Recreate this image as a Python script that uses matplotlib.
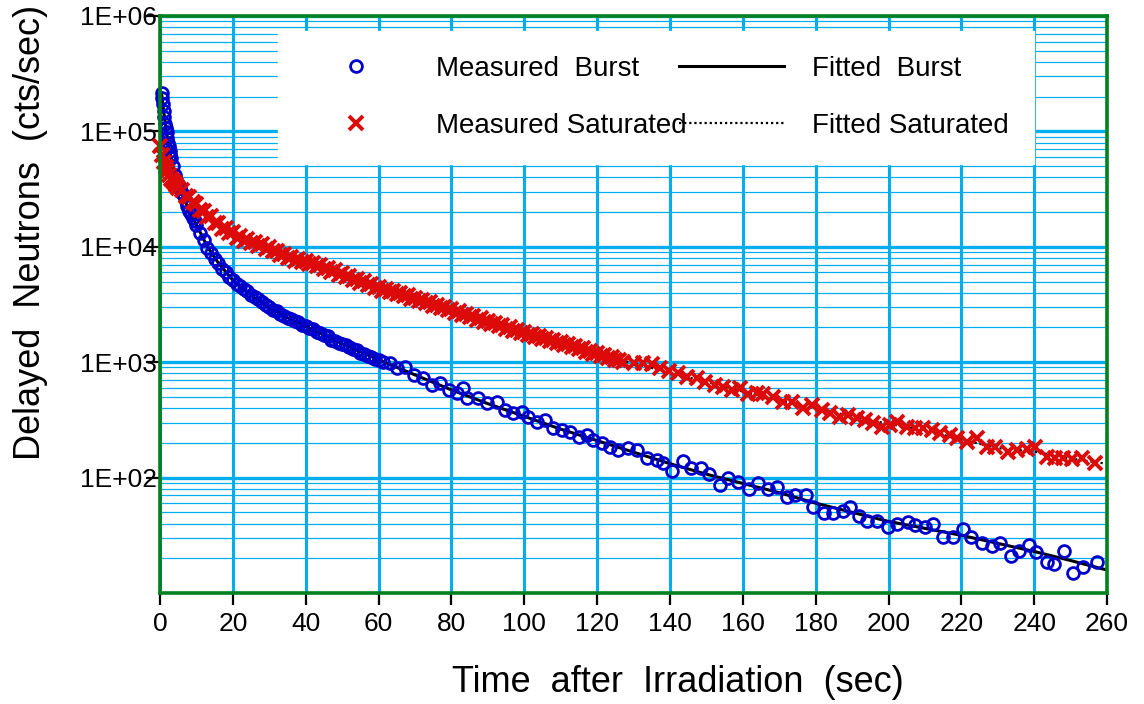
import matplotlib.pyplot as plt
from matplotlib.lines import Line2D
from matplotlib.ticker import FixedLocator, FixedFormatter, LogLocator, NullFormatter

plt.rcParams["font.family"] = ["Liberation Sans", "DejaVu Sans"]

# Measured burst irradiation (cts/sec)
burst_t = [
    0.4, 0.6, 0.8, 1.0, 1.2, 1.4, 1.6, 1.8, 2.0, 2.2, 2.4, 2.6, 2.8, 3.0,
    3.5, 4.0, 4.5, 5.0, 5.5, 6.0, 6.5, 7.0, 7.5, 8.0, 8.5, 9.0, 9.5, 10.0,
    11, 12, 13, 14, 15, 16, 17, 18, 19, 20, 21, 22, 23, 24, 25, 26, 27, 28,
    29, 30, 31, 32, 33, 34, 35, 36, 37, 38, 39, 40, 41, 42, 43, 44, 45, 46,
    47, 48, 49, 50, 51, 52, 53, 54, 55, 56, 57, 58, 59, 60,
    61.3, 63.2, 65.0, 67.3, 69.6, 72.3, 74.6, 76.9, 79.2, 81.5, 83.3, 84.2,
    87.4, 89.7, 92.4, 94.7, 97.0, 99.3, 101.1, 103.4, 105.7, 108.0, 110.3,
    112.6, 114.9, 117.2, 119.0, 121.3, 123.6, 125.8, 128.6, 130.9, 133.6,
    136.4, 138.2, 140.6, 143.6, 145.8, 148.6, 150.8, 153.6, 156.0, 158.8,
    161.8, 164.2, 167.0, 169.4, 172.1, 174.4, 177.3, 179.3, 182.3, 184.8,
    187.5, 189.5, 192.0, 194.1, 196.9, 199.9, 202.4, 205.3, 207.3, 210.0,
    212.3, 215.0, 217.7, 220.5, 222.7, 225.6, 228.4, 230.6, 233.6, 235.9,
    238.6, 240.5, 243.5, 245.5, 248.2, 250.6, 253.4, 257.3,
]
burst_cps = [
    214000, 195000, 174000, 151000, 132000, 117000, 107000, 98000, 87000,
    79000, 74000, 68000, 63000, 59000,
    50000, 42000, 38000, 34700, 32400, 29500, 27500, 25100, 22400, 20400,
    19100, 17800, 16600, 15500,
    13200, 11400, 9800, 8900, 7900, 7300, 6400, 6100, 5500, 5200, 4800, 4600,
    4300, 4100, 3850, 3700, 3500, 3350, 3150, 2980, 2830, 2780, 2600, 2530,
    2420, 2360, 2270, 2210, 2080, 2050, 1980, 1920, 1830, 1790, 1710, 1670,
    1570, 1540, 1470, 1450, 1400, 1360, 1310, 1270, 1210, 1180, 1140, 1110,
    1060, 1050,
    1010, 977, 885, 912, 774, 725, 631, 656, 575, 537, 594, 486,
    486, 440, 455, 385, 361, 372, 337, 305, 315, 267, 258,
    250, 226, 234, 212, 198, 185, 173, 179, 173, 147,
    142, 135, 115, 138, 120, 120, 107, 87, 100, 91,
    79, 89, 79, 83, 68, 71, 71, 56, 49, 49,
    51, 56, 46, 42, 42, 37, 40, 41, 39, 37,
    40, 30.5, 30.5, 36, 30.5, 27, 25.7, 27, 21, 23,
    26, 22.6, 18.6, 17.8, 22.9, 15, 16.8, 18.6,
]

# Measured saturated irradiation (cts/sec)
sat_t = [
    0, 0.5, 1, 1.5, 2, 2.5, 3, 3.5, 4, 4.5, 5,
    6, 7, 8, 9, 10, 11, 12, 13, 14, 15, 16, 17, 18, 19, 20, 21, 22, 23, 24,
    25, 26, 27, 28, 29, 30, 31, 32, 33, 34, 35, 36, 37, 38, 39, 40, 41, 42,
    43, 44, 45, 46, 47, 48, 49, 50, 51, 52, 53, 54, 55, 56, 57, 58, 59, 60,
    61, 62, 63, 64, 65, 66, 67, 68, 69, 70, 71, 72, 73, 74, 75, 76, 77, 78,
    79, 80, 81, 82, 83, 84, 85, 86, 87, 88, 89, 90, 91, 92, 93, 94, 95, 96,
    97, 98, 99, 100, 101, 102, 103, 104, 105, 106, 107, 108, 109, 110, 111,
    112, 113, 114, 115, 116, 117, 118, 119, 120, 121, 122, 123, 124, 125,
    126,
    127.2, 130.0, 132.7, 135.0, 137.3, 139.6, 142.3, 144.6, 147.4, 149.6,
    152.4, 154.6, 157.0, 159.2, 161.5, 163.8, 165.6, 168.4, 171.1, 173.5,
    176.6, 178.9, 181.7, 184.0, 186.6, 188.9, 191.3, 193.6, 195.8, 198.2,
    200.4, 202.3, 205.0, 207.3, 209.5, 211.9, 214.2, 216.9, 218.8, 221.6,
    224.3, 227.0, 229.3, 232.8, 235.2, 237.9, 240.2, 243.4, 245.7, 247.9,
    250.3, 253.0, 256.7,
]
sat_cps = [
    74000, 63000, 54000, 49000, 45000, 42000, 39000, 37000, 35500, 34000,
    32500,
    31000, 27500, 27000, 24500, 23500, 21000, 20400, 18200, 18400, 16200,
    16000, 14300, 14600, 13200, 13300, 12000, 12300, 11200, 11600, 10700,
    11100, 10100, 10500, 9550, 9890, 9120, 9230, 8410, 8710, 7940, 8220,
    7590, 7850, 7330, 7590, 7080, 7240, 6760, 7000, 6460, 6610, 6100, 6240,
    5750, 5890, 5430, 5620, 5130, 5250, 4900, 5010, 4620, 4730, 4370, 4470,
    4170, 4320, 4030, 4170, 3890, 3980, 3720, 3800, 3550, 3630, 3390, 3470,
    3240, 3310, 3090, 3160, 2950, 3020, 2820, 2880, 2690, 2750, 2570, 2630,
    2450, 2510, 2340, 2400, 2240, 2290, 2140, 2190, 2040, 2090, 1950, 2000,
    1860, 1905, 1780, 1820, 1720, 1760, 1640, 1680, 1580, 1620, 1530, 1570,
    1480, 1510, 1410, 1445, 1350, 1380, 1290, 1320, 1230, 1260, 1175, 1200,
    1135, 1150, 1085, 1100, 1050, 1050,
    1000, 990, 977, 955, 891, 832, 813, 741, 724, 676,
    631, 610, 575, 603, 525, 537, 525, 501, 452, 452,
    398, 427, 385, 363, 335, 347, 331, 316, 295, 275,
    285, 302, 275, 269, 269, 257, 245, 234, 219, 204,
    219, 184, 184, 166, 174, 178, 184, 151, 148, 148,
    145, 148, 135,
]

# Fitted curves (cts/sec)
fit_burst_t = [0.4, 1, 2, 3, 4, 5, 6, 8, 10, 13, 16, 20, 25, 30, 35, 40, 50,
               60, 70, 80, 90, 100, 110, 120, 130, 140, 150, 160, 170, 180,
               190, 200, 210, 220, 230, 240, 250, 260]
fit_burst = [214000, 150000, 87000, 59000, 42700, 34700, 29500, 20400, 15500,
             10000, 7240, 5130, 3800, 2950, 2430, 2040, 1445, 1050, 776, 575,
             437, 339, 263, 209, 166, 132, 107, 89, 74, 60, 50, 41.7, 36.3,
             31.6, 26.9, 22.9, 19.1, 15.8]
fit_sat_t = [0, 1, 2, 3, 5, 7, 10, 13, 16, 20, 25, 30, 35, 40, 50, 60, 70, 80,
             90, 100, 110, 120, 130, 140, 150, 160, 170, 180, 190, 200, 210,
             220, 230, 240, 250, 259]
fit_sat = [74100, 53700, 44700, 38900, 32400, 28200, 22900, 19100, 15800,
           12900, 11000, 9550, 8130, 7410, 5750, 4370, 3550, 2820, 2240, 1780,
           1480, 1175, 977, 813, 676, 556, 468, 398, 339, 292, 257, 214, 180,
           168, 146, 133]

x_ticks = [0, 20, 40, 60, 80, 100, 120, 140, 160, 180, 200, 220, 240, 260]
y_ticks = [1e2, 1e3, 1e4, 1e5, 1e6]
y_tick_labels = ["1E+02", "1E+03", "1E+04", "1E+05", "1E+06"]

grid_color = "#00AEEF"
frame_color = "#00801E"
blue = "#0000CC"
red = "#DD0A0A"

circle_style = dict(linestyle="none", marker="o", markersize=8.5,
                    markerfacecolor="none", markeredgecolor=blue,
                    markeredgewidth=2.0)
cross_style = dict(linestyle="none", marker="x", markersize=9.5,
                   markeredgecolor=red, markeredgewidth=2.8)
solid_style = dict(color="black", linewidth=2.2)
dotted_style = dict(color="black", linewidth=1.6, linestyle=(0, (1, 1.3)))

fig = plt.figure(figsize=(11.44, 7.04), dpi=100)
ax = fig.add_axes([0.1399, 0.1577, 0.8278, 0.8196])

# fits sit under the measured points, like in the original
ax.plot(fit_burst_t, fit_burst, zorder=2.5, **solid_style)
ax.plot(fit_sat_t, fit_sat, zorder=2.5, **dotted_style)
ax.plot(burst_t, burst_cps, clip_on=False, zorder=3, **circle_style)
ax.plot(sat_t, sat_cps, clip_on=False, zorder=3, **cross_style)

ax.set_yscale("log")
ax.set_xlim(0, 260)
ax.set_ylim(10, 1e6)

ax.xaxis.set_major_locator(FixedLocator(x_ticks))
ax.yaxis.set_major_locator(FixedLocator(y_ticks))
ax.yaxis.set_major_formatter(FixedFormatter(y_tick_labels))
ax.yaxis.set_minor_locator(LogLocator(base=10, subs=range(2, 10), numticks=20))
ax.yaxis.set_minor_formatter(NullFormatter())

ax.set_axisbelow(True)
ax.grid(True, axis="x", which="major", color=grid_color, linewidth=2.2)
ax.grid(True, axis="y", which="major", color=grid_color, linewidth=2.4)
ax.grid(True, axis="y", which="minor", color=grid_color, linewidth=0.9)

ax.tick_params(axis="x", which="major", direction="out", length=8.5,
               width=1.6, color="black", labelsize=19, pad=5)
ax.tick_params(axis="y", which="major", direction="out", length=10,
               width=1.6, color="black", labelsize=19, pad=-8)
ax.tick_params(axis="y", which="minor", length=0)

for spine in ax.spines.values():
    spine.set_color(frame_color)
    spine.set_linewidth(2.6)
    spine.set_zorder(6)

ax.set_xlabel("Time  after  Irradiation  (sec)", fontsize=26)
ax.xaxis.set_label_coords(0.547, -0.125)
ax.set_ylabel("Delayed  Neutrons  (cts/sec)", fontsize=26)
ax.yaxis.set_label_coords(-0.118, 0.624)

handles = [
    Line2D([], [], **circle_style),
    Line2D([], [], **cross_style),
    Line2D([], [], **solid_style),
    Line2D([], [], **dotted_style),
]
labels = ["Measured  Burst", "Measured Saturated", "Fitted  Burst",
          "Fitted Saturated"]
ax.legend(handles, labels, ncol=2, loc="upper left",
          bbox_to_anchor=(0.1246, 0.974), borderaxespad=0, frameon=True,
          fancybox=False, edgecolor="white", facecolor="white", framealpha=1,
          fontsize=20, handlelength=3.8, handletextpad=1.0,
          columnspacing=-0.3, labelspacing=1.1, borderpad=0.9)

fig.savefig("out.png", dpi=100)
